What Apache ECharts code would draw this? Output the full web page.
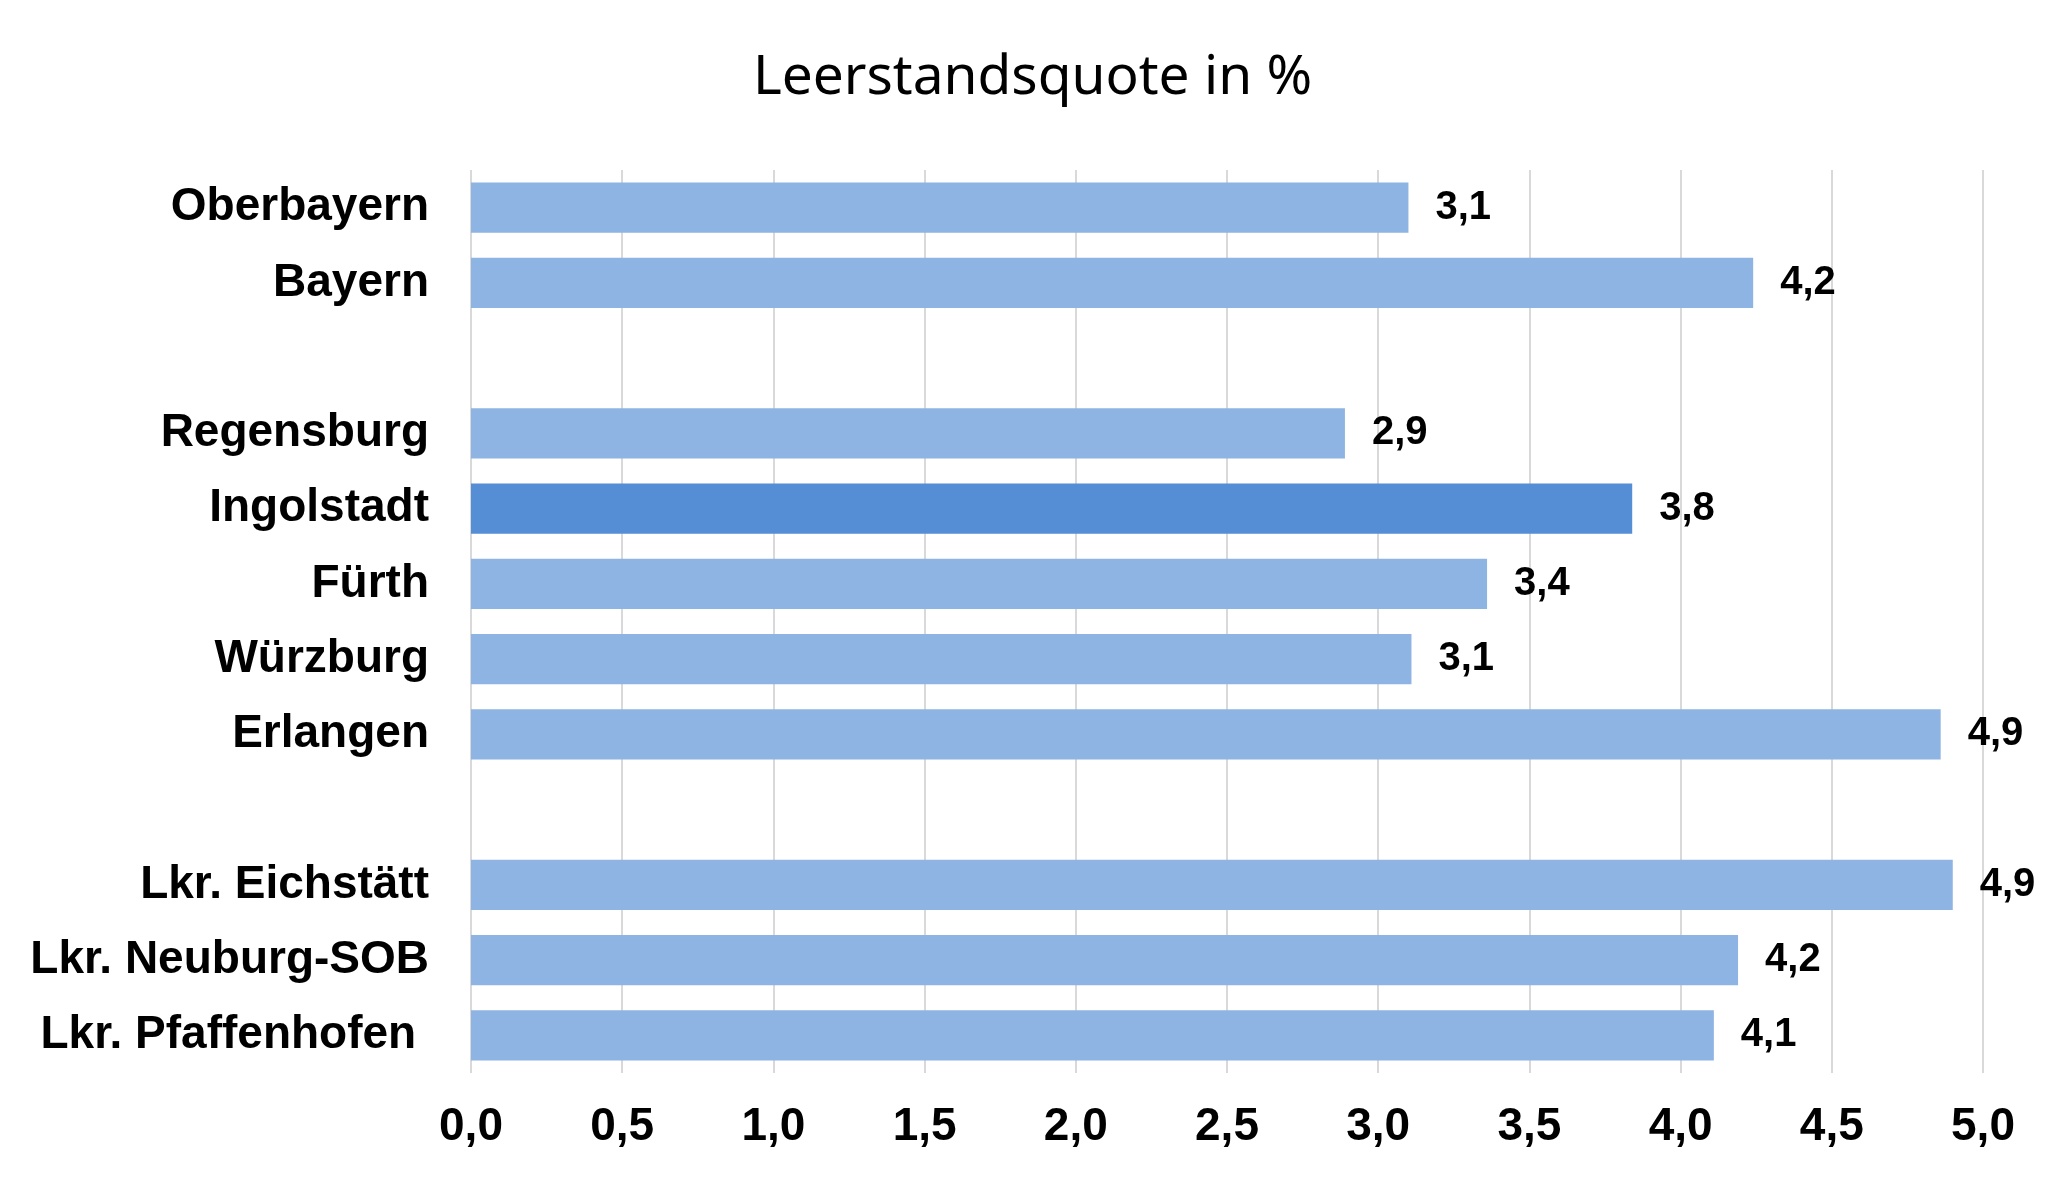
<!DOCTYPE html>
<html style="height: 100%">
  <head>
    <meta charset="utf-8" />
  </head>
  <body style="height: 100%; margin: 0; background: #fff">
    <div id="container" style="width: 2065px; height: 1179px"></div>
    <script src="https://cdn.jsdelivr.net/npm/echarts@6/dist/echarts.min.js"></script>
    <script type="text/javascript">
      var dom = document.getElementById('container');
      var myChart = echarts.init(dom);

      // Kategorien von oben nach unten, leere Einträge = Lücken
      var categories = [
        'Oberbayern', 'Bayern', '',
        'Regensburg', 'Ingolstadt', 'Fürth', 'Würzburg', 'Erlangen', '',
        'Lkr. Eichstätt', 'Lkr. Neuburg-SOB', 'Lkr. Pfaffenhofen '
      ];
      // Leerstandsquote in %
      var values = [3.10, 4.24, '-', 2.89, 3.84, 3.36, 3.11, 4.86, '-', 4.90, 4.19, 4.11];
      var highlight = 'Ingolstadt';
      var xTicks = [0, 0.5, 1, 1.5, 2, 2.5, 3, 3.5, 4, 4.5, 5];

      var barData = values.map(function (v, i) {
        return {
          value: v,
          itemStyle: { color: categories[i] === highlight ? '#558ED5' : '#8EB4E3' }
        };
      });

      var option = {
        animation: false,
        title: {
          text: 'Leerstandsquote in %',
          left: 'center',
          top: 46,
          textStyle: {
            fontFamily: 'Noto Sans',
            fontWeight: 'normal',
            fontSize: 55,
            color: '#000'
          }
        },
        grid: {
          left: 471,
          right: 82,
          top: 170,
          bottom: 1179 - 1073,
          containLabel: false
        },
        xAxis: {
          type: 'value',
          min: xTicks[0],
          max: xTicks[xTicks.length - 1],
          interval: 0.5,
          axisLine: { show: false },
          axisTick: { show: false },
          splitLine: { show: true, lineStyle: { color: '#D9D9D9', width: 2 } },
          axisLabel: {
            margin: 31,
            fontFamily: 'Liberation Sans',
            fontWeight: 'bold',
            fontSize: 46,
            color: '#000',
            formatter: function (v) { return v.toFixed(1).replace('.', ','); }
          }
        },
        yAxis: {
          type: 'category',
          inverse: true,
          data: categories,
          axisLine: { show: false },
          axisTick: { show: false },
          axisLabel: {
            margin: 42,
            interval: 0,
            fontFamily: 'Liberation Sans',
            fontWeight: 'bold',
            fontSize: 46,
            color: '#000'
          }
        },
        series: [
          {
            type: 'bar',
            data: barData,
            barCategoryGap: '33%',
            label: {
              show: true,
              position: 'right',
              distance: 27,
              fontFamily: 'Liberation Sans',
              fontWeight: 'bold',
              fontSize: 40,
              color: '#000',
              formatter: function (p) { return p.value.toFixed(1).replace('.', ','); }
            }
          }
        ]
      };

      myChart.setOption(option);
    </script>
  </body>
</html>
